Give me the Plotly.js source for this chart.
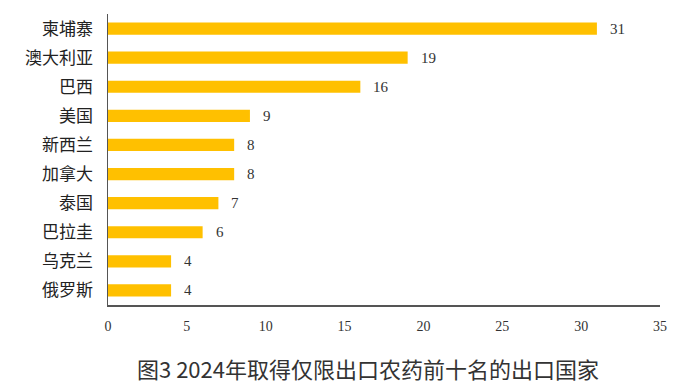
<!DOCTYPE html>
<html>
<head>
<meta charset="utf-8">
<script src="https://cdn.plot.ly/plotly-3.0.1.min.js"></script>
<style>html,body{margin:0;padding:0;background:#fff;}#chart{width:693px;height:390px;}</style>
</head>
<body>
<div id="chart"></div>
<script>
const countries = ["柬埔寨","澳大利亚","巴西","美国","新西兰","加拿大","泰国","巴拉圭","乌克兰","俄罗斯"];
const counts = [31,19,16,9,8,8,7,6,4,4];
const xTicks = [0,5,10,15,20,25,30,35];
const titleText = "图3 2024年取得仅限出口农药前十名的出口国家";

const trace = {
  type: "bar",
  orientation: "h",
  y: countries,
  x: counts,
  marker: {color: "#FFC000"},
  width: 0.42,
  hoverinfo: "none"
};

const annotations = countries.map((c, i) => ({
  x: counts[i], y: c, xref: "x", yref: "y",
  text: String(counts[i]), showarrow: false,
  xanchor: "left", xshift: 11,
  font: {family: "Liberation Serif, Times New Roman, serif", size: 15, color: "#333"}
}));
annotations.push({
  xref: "paper", yref: "paper", x: 0.471, y: -0.2165, xanchor: "center", yanchor: "middle",
  text: titleText, showarrow: false,
  font: {family: "Noto Sans CJK SC, sans-serif", size: 22, color: "#333"}
});

const layout = {
  width: 693, height: 390,
  margin: {l: 108, r: 33, t: 14, b: 85},
  paper_bgcolor: "#fff", plot_bgcolor: "#fff",
  showlegend: false,
  xaxis: {
    range: [0, 35], tickvals: xTicks, ticktext: xTicks.map(String),
    showgrid: false, zeroline: false, showline: true, linecolor: "#555", linewidth: 1.5,
    ticks: "", ticklabelstandoff: 8,
    tickfont: {family: "Liberation Serif, Times New Roman, serif", size: 14, color: "#333"},
    fixedrange: true
  },
  yaxis: {
    autorange: "reversed", showgrid: false, zeroline: false,
    showline: true, linecolor: "#555", linewidth: 1.5, ticks: "",
    ticklabelstandoff: 10,
    tickfont: {family: "Noto Sans CJK SC, sans-serif", size: 17, color: "#222"},
    fixedrange: true
  },
  annotations: annotations
};

Plotly.newPlot("chart", [trace], layout, {staticPlot: true, displayModeBar: false});
</script>
</body>
</html>
